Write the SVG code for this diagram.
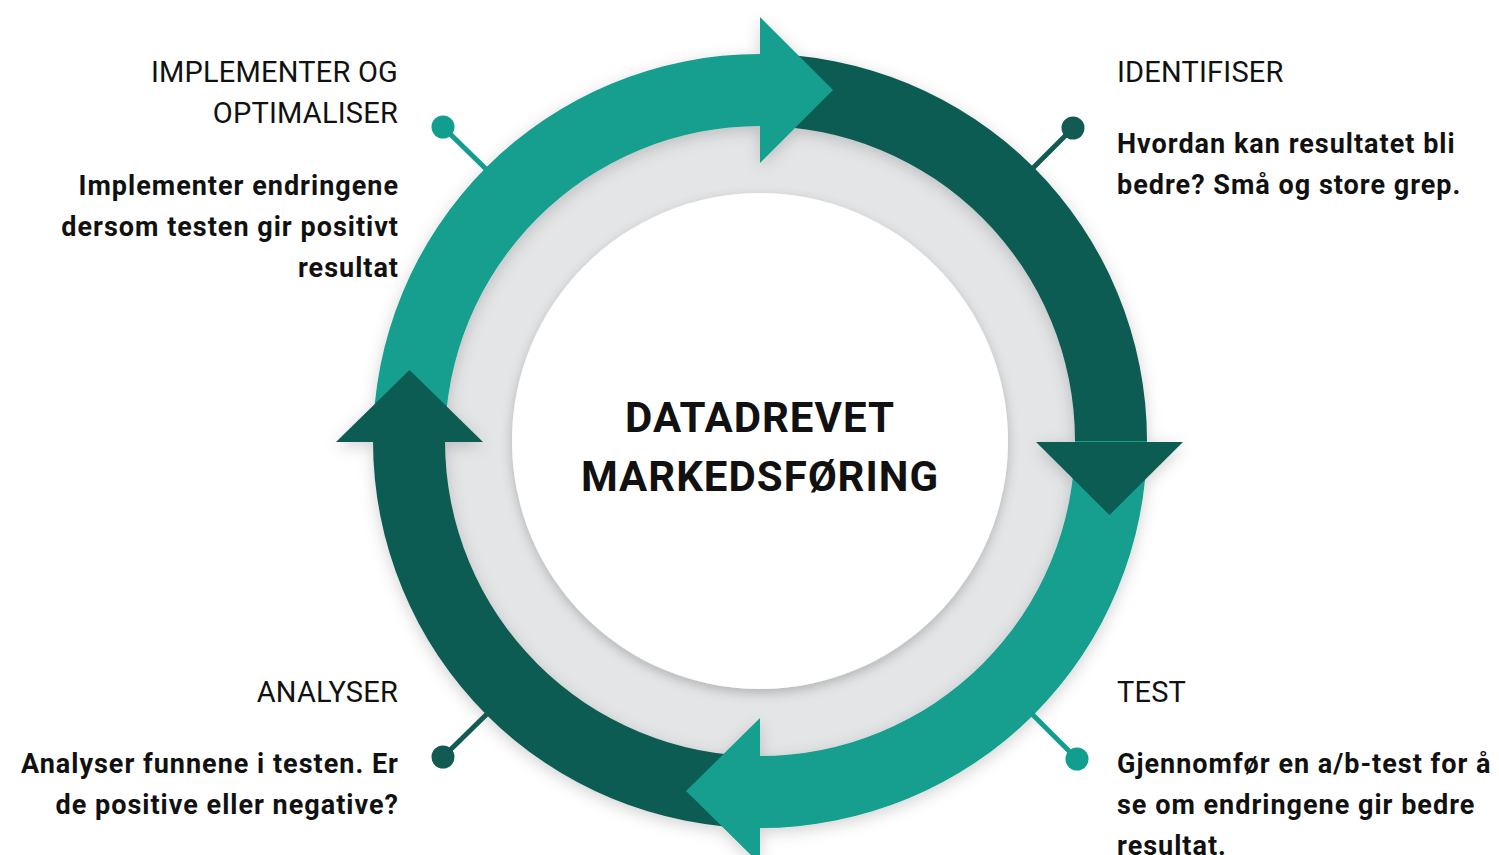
<svg xmlns="http://www.w3.org/2000/svg" width="1499" height="855" viewBox="0 0 1499 855">
<defs>
<filter id="sh" x="-20%" y="-20%" width="140%" height="140%">
<feGaussianBlur in="SourceAlpha" stdDeviation="6"/>
<feOffset dx="0" dy="4" result="b"/>
<feFlood flood-color="#000" flood-opacity="0.22"/>
<feComposite in2="b" operator="in"/>
<feMerge><feMergeNode/><feMergeNode in="SourceGraphic"/></feMerge>
</filter>
<filter id="sh2" x="-20%" y="-20%" width="140%" height="140%">
<feGaussianBlur in="SourceAlpha" stdDeviation="8"/>
<feOffset dx="0" dy="4" result="b"/>
<feFlood flood-color="#000" flood-opacity="0.18"/>
<feComposite in2="b" operator="in"/>
<feMerge><feMergeNode/><feMergeNode in="SourceGraphic"/></feMerge>
</filter>
</defs>
<style>
.teal{fill:#129E8F}
.dark{fill:#115B53}
.h{font-family:Roboto,"Liberation Sans",sans-serif;font-size:29px;fill:#111;letter-spacing:0.2px}
.b{font-family:Roboto,"Liberation Sans",sans-serif;font-size:27px;font-weight:bold;fill:#111;letter-spacing:1px}
.c{font-family:Roboto,"Liberation Sans",sans-serif;font-size:42px;font-weight:bold;fill:#111;text-anchor:middle;letter-spacing:1px}
.r{text-anchor:end}
.lt{stroke:#129E8F;stroke-width:5}
.ld{stroke:#115B53;stroke-width:5}
</style>
<rect width="1499" height="855" fill="#fff"/>
<circle id="gray" cx="760" cy="441" r="318" fill="#E4E5E7"/>
<g id="ring" filter="url(#sh2)">
<path class="teal" d="M 373 441 A 387 387 0 0 1 760 54 L 760 126 A 315 315 0 0 0 445 441 Z"/>
<path class="dark" d="M 760 54 A 387 387 0 0 1 1147 441 L 1075 441 A 315 315 0 0 0 760 126 Z"/>
<path class="teal" d="M 1147 441 A 387 387 0 0 1 760 828 L 760 756 A 315 315 0 0 0 1075 441 Z"/>
<path class="dark" d="M 760 828 A 387 387 0 0 1 373 441 L 445 441 A 315 315 0 0 0 760 756 Z"/>
<polygon class="teal" points="760,17 833,90 760,163"/>
<polygon class="dark" points="1036,442 1183,442 1109.5,515"/>
<polygon class="teal" points="760,718 686,791 760,864"/>
<polygon class="dark" points="336,442 483,442 409.5,370"/>
</g>
<g id="center">
<circle cx="760" cy="441" r="248" fill="#fff" filter="url(#sh)"/>
<text class="c" x="760" y="432">DATADREVET</text>
<text class="c" x="760" y="491">MARKEDSFØRING</text>
</g>
<g id="connectors">
<line class="lt" x1="443" y1="127" x2="488" y2="171"/>
<line class="ld" x1="1073" y1="128" x2="1032" y2="169"/>
<line class="lt" x1="1077" y1="759" x2="1032" y2="714"/>
<line class="ld" x1="443" y1="757" x2="488" y2="713"/>
</g>
<g id="node-implementer">
<circle class="teal" cx="443" cy="127" r="11.5"/>
<text class="h r" x="398" y="82">IMPLEMENTER OG</text>
<text class="h r" x="398" y="123">OPTIMALISER</text>
<text class="b r" x="399" y="195">Implementer endringene</text>
<text class="b r" x="399" y="236">dersom testen gir positivt</text>
<text class="b r" x="399" y="277">resultat</text>
</g>
<g id="node-identifiser">
<circle class="dark" cx="1073" cy="128" r="11.5"/>
<text class="h" x="1117" y="82">IDENTIFISER</text>
<text class="b" x="1117" y="153">Hvordan kan resultatet bli</text>
<text class="b" x="1117" y="194">bedre? Små og store grep.</text>
</g>
<g id="node-test">
<circle class="teal" cx="1077" cy="759" r="11.5"/>
<text class="h" x="1117" y="702">TEST</text>
<text class="b" x="1117" y="773">Gjennomfør en a/b-test for å</text>
<text class="b" x="1117" y="814">se om endringene gir bedre</text>
<text class="b" x="1117" y="855">resultat.</text>
</g>
<g id="node-analyser">
<circle class="dark" cx="443" cy="757" r="11.5"/>
<text class="h r" x="398" y="702">ANALYSER</text>
<text class="b r" x="399" y="773">Analyser funnene i testen. Er</text>
<text class="b r" x="399" y="814">de positive eller negative?</text>
</g>
</svg>
